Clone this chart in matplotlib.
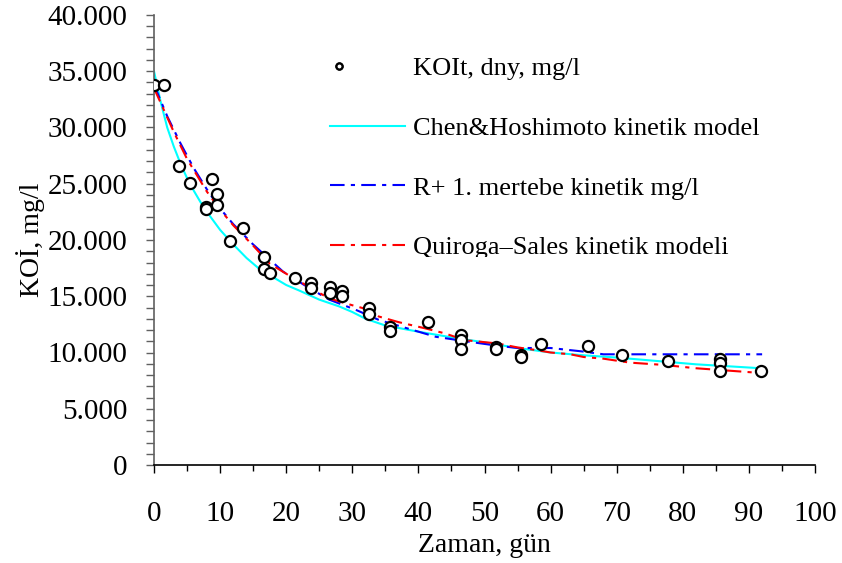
import matplotlib
matplotlib.use("Agg")
import matplotlib.pyplot as plt
from matplotlib.ticker import MultipleLocator, FuncFormatter
from matplotlib.transforms import Bbox, TransformedBbox
from matplotlib.legend_handler import HandlerLine2D

# ---- data (values in mg/l) ----
obs_days = [0, 1.5, 3.8, 5.5, 7.8, 7.8, 8.7, 9.6, 9.6, 11.5, 13.5, 16.6, 16.6, 17.6,
            21.4, 23.7, 23.7, 26.6, 26.6, 28.5, 28.5, 32.5, 32.5, 35.7, 35.7, 41.5,
            46.4, 46.4, 46.4, 51.8, 51.8, 55.5, 55.5, 58.6, 65.7, 70.8, 77.7,
            85.6, 85.6, 85.6, 91.9]
obs_cod = [33800, 33800, 26600, 25100, 22900, 22750, 25400, 24100, 23100, 19900, 21100,
           18500, 17400, 17100, 16600, 16200, 15700, 15850, 15300, 15500, 15000,
           14000, 13400, 12300, 11900, 12700, 11600, 11100, 10300, 10450, 10300,
           9800, 9600, 10750, 10600, 9800, 9270, 9400, 9100, 8400, 8400]

chen_days = [0, 1, 2, 3, 4, 5, 6, 7, 8, 10, 12, 14, 16, 18, 20, 22, 25, 28, 30, 32,
             35, 40, 45, 50, 55, 60, 65, 70, 77, 82, 91.8]
chen_cod = [35000, 32300, 30000, 28300, 26800, 25500, 24400, 23400, 22500, 20900,
            19600, 18400, 17400, 16700, 16000, 15500, 14700, 14100, 13600, 13000,
            12400, 11850, 11350, 10900, 10400, 10000, 9750, 9550, 9200, 8950, 8600]

rplus_days = [0, 2, 4, 6, 8, 10, 12, 15, 19.5, 23, 26.5, 30.5, 34, 38, 42.6, 47.6,
              52, 55, 60, 64.7, 68, 92]
rplus_cod = [33800, 31000, 28600, 26400, 24500, 22800, 21400, 19600, 17200, 15900,
             14700, 13800, 12900, 12200, 11400, 10960, 10600, 10400, 10400, 10100,
             9840, 9840]

qs_days = [0, 3, 5, 8, 10, 12, 15, 17.5, 20, 26.5, 30, 32.5, 34, 37, 41, 44, 47, 52,
           55, 58, 60, 63, 65, 68, 72, 77, 82, 91.3]
qs_cod = [33500, 29600, 27200, 24300, 22700, 21300, 19500, 17900, 17000, 14800,
          14200, 13800, 13200, 12700, 12150, 11700, 11100, 10800, 10450, 10200,
          10000, 9840, 9600, 9450, 9100, 8900, 8600, 8200]

labels = ["KOIt, dny, mg/l", "Chen&Hoshimoto kinetik model",
          "R+ 1. mertebe kinetik mg/l", "Quiroga\u2013Sales kinetik modeli"]
x_label = "Zaman, gün"
y_label = "KOİ, mg/l"


class LeftMarkerHandler(HandlerLine2D):
    def get_xdata(self, legend, xdescent, ydescent, width, height, fontsize):
        m = -xdescent + 0.12 * width
        return [m, m], [m]


# ---- figure ----
plt.rcParams['font.family'] = ['Liberation Serif', 'DejaVu Serif']
FS_TICK = 21
FS_LAB = 20
FS_LEG = 19
fig = plt.figure(figsize=(8.42, 5.63), dpi=100)
ax = fig.add_axes([154 / 842, 1 - 465 / 563, (815 - 154) / 842, 450 / 563])

dash = (0, (7, 3, 2, 3))
ax.plot(chen_days, chen_cod, color='#00FFFF', lw=1.5, label=labels[1], zorder=2)
ax.plot(rplus_days, rplus_cod, color='#0000FF', lw=1.5, ls=dash, label=labels[2], zorder=3)
ax.plot(qs_days, qs_cod, color='#FF0000', lw=1.5, ls=dash, label=labels[3], zorder=3)
obs_line, = ax.plot(obs_days, obs_cod, ls='none', marker='o', ms=8, mfc='white',
                    mec='black', mew=1.6, label=labels[0], zorder=5)

ax.set_xlim(0, 100)
ax.set_ylim(0, 40000)
ax.xaxis.set_major_locator(MultipleLocator(10))
ax.xaxis.set_minor_locator(MultipleLocator(5))
ax.yaxis.set_major_locator(MultipleLocator(5000))
ax.yaxis.set_minor_locator(MultipleLocator(1000))
ax.yaxis.set_major_formatter(FuncFormatter(
    lambda v, p: '0' if v == 0 else f'{v:,.0f}'.replace(',', '.')))

for s in ['top', 'right']:
    ax.spines[s].set_visible(False)
ax.spines['left'].set_color('#606060')
ax.spines['bottom'].set_color('black')
ax.spines['left'].set_linewidth(1.2)
ax.spines['bottom'].set_linewidth(1.2)

ax.tick_params(axis='x', which='major', length=6, width=1, direction='out',
               labelsize=FS_TICK, pad=20)
ax.tick_params(axis='x', which='minor', length=4, width=1, direction='out')
ax.tick_params(axis='y', which='both', length=6, width=1, direction='out',
               color='#606060', labelsize=FS_TICK, pad=13)

ax.set_xlabel(x_label, fontsize=FS_LAB, labelpad=0)
ax.set_ylabel(y_label, fontsize=FS_LAB, labelpad=0)
ax.xaxis.set_label_coords(0.5, -0.152)
ax.yaxis.set_label_coords(-0.165, 0.5)

handles, labs = ax.get_legend_handles_labels()
order = [3, 0, 1, 2]
leg = ax.legend([handles[i] for i in order], [labs[i] for i in order],
                loc='upper left', bbox_to_anchor=(330 / 842, 1 - 57 / 563),
                bbox_transform=fig.transFigure, frameon=False, fontsize=FS_LEG,
                handlelength=2.85, handletextpad=0.3, labelspacing=1.37,
                borderpad=0, borderaxespad=0, markerscale=0.55,
                handler_map={obs_line: LeftMarkerHandler(numpoints=2)})
clip = TransformedBbox(Bbox([[0, (563 - 257) / 563], [1, 1]]), fig.transFigure)
for t in leg.get_texts():
    t.set_clip_box(clip)
    t.set_clip_on(True)

fig.savefig('out.png', dpi=100)
